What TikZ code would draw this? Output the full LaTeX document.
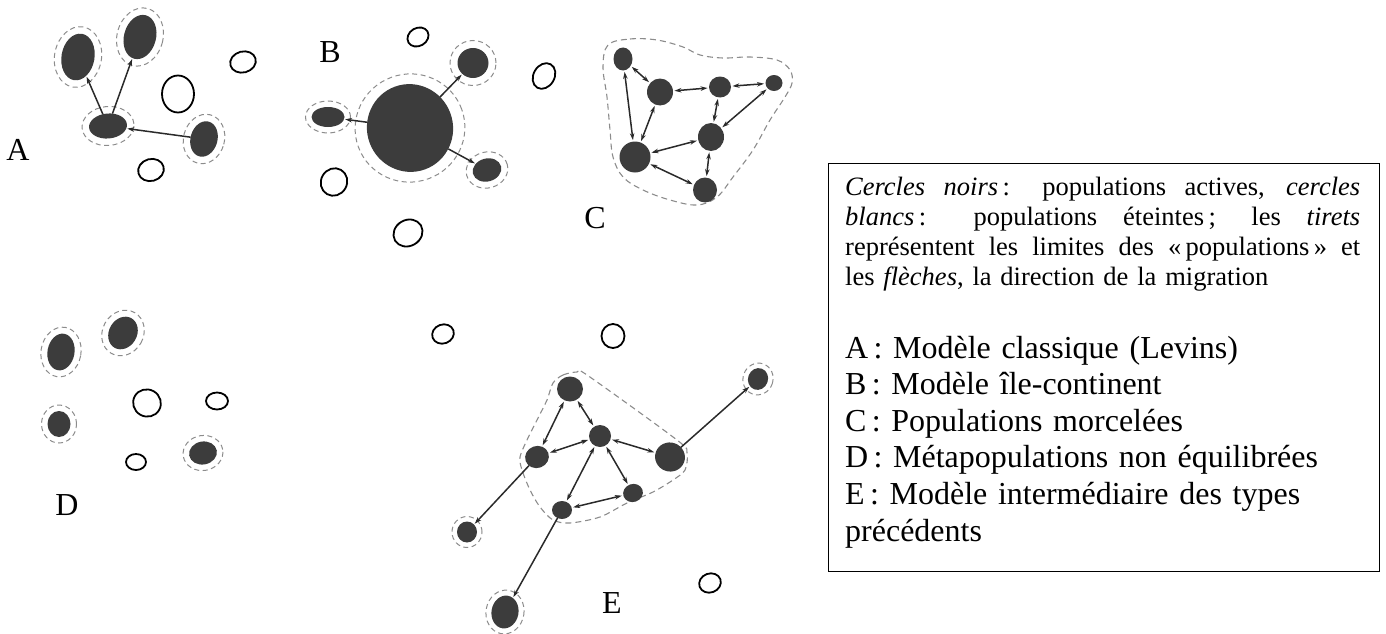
\documentclass[tikz,border=0pt]{standalone}
\usepackage{fontspec}
\setmainfont{Liberation Serif}
\usetikzlibrary{shapes.geometric,arrows.meta}

\definecolor{popfill}{HTML}{3C3C3C}
\definecolor{halogray}{HTML}{8C8C8C}
\definecolor{linkcol}{HTML}{2A2A2A}

\tikzset{
  live/.style={ellipse, fill=popfill, draw=none, inner sep=0pt, outer sep=0pt},
  dead/.style={ellipse, draw=black, line width=1.8pt, fill=white, inner sep=0pt},
  halo/.style={ellipse, draw=halogray, dash pattern=on 5pt off 3.5pt, line width=1pt, inner sep=0pt},
  boundary/.style={draw=halogray, dash pattern=on 6pt off 4pt, line width=1.1pt},
  mig/.style={draw=linkcol, line width=1.5pt, -{Stealth[length=7pt,width=4.5pt]}, shorten >=1pt},
  migboth/.style={draw=linkcol, line width=1.5pt,
    {Stealth[length=7pt,width=4.5pt]}-{Stealth[length=7pt,width=4.5pt]},
    shorten >=1.5pt, shorten <=1.5pt},
  panel/.style={font=\fontsize{32pt}{36pt}\selectfont, inner sep=0pt},
}

% living population with its dashed halo: name, x, y, width, height, angle, halo margin
\newcommand\livepop[7]{%
  \node[halo, minimum width={#4pt+#7pt}, minimum height={#5pt+#7pt}, rotate=#6] (#1h) at (#2,#3) {};
  \node[live, minimum width=#4pt, minimum height=#5pt, rotate=#6] (#1) at (#2,#3) {};}
% living population without halo
\newcommand\core[6]{%
  \node[live, minimum width=#4pt, minimum height=#5pt, rotate=#6] (#1) at (#2,#3) {};}
% extinct population
\newcommand\extinct[6]{%
  \node[dead, minimum width=#4pt, minimum height=#5pt, rotate=#6] (#1) at (#2,#3) {};}
% one fully justified line of the key
\newcommand\fullline[1]{\makebox[515pt][s]{\spaceskip=0pt \xspaceskip=0pt #1}}

\begin{document}
\begin{tikzpicture}[x=1pt,y=-1pt]
\useasboundingbox (0,0) rectangle (1386,634);

% ---------- A : classical model ----------
\livepop{a1}{78}{57}{33}{47}{-10}{14}
\livepop{a2}{140}{37}{32}{45}{-15}{14}
\livepop{a0}{108}{126}{38}{25}{5}{14}
\livepop{a3}{204}{139}{27}{36}{-15}{14}
\extinct{aw1}{178}{94}{32}{37}{0}
\extinct{aw2}{243}{62}{26}{21}{15}
\extinct{aw3}{151}{170}{26}{22}{15}
\draw[mig] (a0) -- (a1);
\draw[mig] (a0) -- (a2);
\draw[mig] (a3) -- (a0);
\node[panel] (labA) at (18,150) {A};

% ---------- B : island-continent ----------
\node[halo, minimum width=110pt, minimum height=108pt, rotate=20] (b0h) at (410,128) {};
\node[live, minimum width=86pt, minimum height=88pt, rotate=20] (b0) at (410,128) {};
\livepop{b1}{328}{117}{33}{20}{0}{12}
\livepop{b2}{473}{63}{31}{30}{0}{15}
\livepop{b3}{487}{170}{29}{23}{15}{13}
\extinct{bw1}{418}{37}{22}{18}{30}
\extinct{bw2}{544}{76}{21}{27}{-30}
\extinct{bw3}{334}{182}{26}{28}{-30}
\extinct{bw4}{408}{233}{30}{26}{30}
\draw[mig] (b0) -- (b1);
\draw[mig] (b0) -- (b2);
\draw[mig] (b0) -- (b3);
\node[panel] (labB) at (330,52) {B};

% ---------- C : patchy populations ----------
\draw[boundary] plot[smooth cycle, tension=0.6] coordinates {
  (608,45) (630,39) (657,40) (683,47) (700,55) (723,58) (750,57) (777,60)
  (790,70) (792,83) (785,97) (770,120) (753,150) (733,177) (717,197)
  (697,205) (670,200) (643,190) (623,177) (613,157) (610,130) (607,97) (603,67)};
\core{c1}{623}{59}{19}{23}{0}
\core{c2}{660}{92}{26}{27}{0}
\core{c3}{720}{87}{22}{21}{0}
\core{c4}{774}{83}{17}{16}{0}
\core{c5}{711}{137}{26}{28}{0}
\core{c6}{635}{157}{31}{31}{0}
\core{c7}{705}{190}{24}{25}{0}
\draw[migboth] (c1) -- (c2);
\draw[migboth] (c1) -- (c6);
\draw[migboth] (c2) -- (c3);
\draw[migboth] (c2) -- (c6);
\draw[migboth] (c3) -- (c4);
\draw[migboth] (c3) -- (c5);
\draw[migboth] (c5) -- (c4);
\draw[migboth] (c5) -- (c6);
\draw[migboth] (c5) -- (c7);
\draw[migboth] (c6) -- (c7);
\node[panel] (labC) at (595,218) {C};

% ---------- D : non-equilibrium metapopulations ----------
\livepop{d1}{61}{352}{27}{37}{-10}{13}
\livepop{d2}{123}{333}{28}{34}{-30}{13}
\livepop{d3}{59}{424}{23}{26}{0}{12}
\livepop{d4}{203}{453}{28}{23}{10}{12}
\extinct{dw1}{147}{403}{28}{27}{-30}
\extinct{dw2}{217}{401}{22}{17}{0}
\extinct{dw3}{136}{462}{20}{16}{0}
\node[panel] (labD) at (67,505) {D};

% ---------- E : intermediate model ----------
\draw[boundary] plot[smooth cycle, tension=0.5] coordinates {
  (553,383) (563,375) (577,372) (587,375) (677,440) (687,453) (685,470)
  (673,480) (653,492) (627,503) (600,517) (570,523) (553,520) (540,507)
  (530,490) (522,470) (520,457) (527,440) (537,420) (547,400)};
\core{e1}{570}{389}{26}{25}{0}
\core{e2}{600}{436}{22}{22}{0}
\core{e3}{537}{457}{24}{22}{20}
\core{e4}{670}{457}{30}{29}{-20}
\core{e5}{633}{493}{20}{18}{20}
\core{e6}{562}{510}{20}{18}{0}
\livepop{e7}{467}{532}{20}{21}{0}{10}
\livepop{e8}{505}{612}{27}{33}{-10}{11}
\livepop{e9}{758}{379}{20}{22}{-20}{10}
\extinct{ew1}{443}{334}{22}{19}{20}
\extinct{ew2}{613}{336}{23}{24}{0}
\extinct{ew3}{710}{583}{22}{19}{20}
\draw[migboth] (e1) -- (e3);
\draw[migboth] (e1) -- (e2);
\draw[migboth] (e3) -- (e2);
\draw[migboth] (e2) -- (e4);
\draw[migboth] (e2) -- (e6);
\draw[migboth] (e2) -- (e5);
\draw[migboth] (e6) -- (e5);
\draw[mig] (e3) -- (e7);
\draw[mig] (e6) -- (e8);
\draw[mig] (e4) -- (e9);
\node[panel] (labE) at (612,603) {E};

% ---------- key ----------
\node[draw=black, line width=1.2pt, anchor=north west, minimum width=551pt,
      minimum height=408pt, inner sep=0pt] (legend) at (828,163) {};
\node[anchor=base west, inner sep=0pt, text width=515pt, align=left,
      font=\fontsize{26.5pt}{30pt}\selectfont] (key) at (845,195)
  {\fullline{\textit{Cercles noirs}\,: populations actives, \textit{cercles}}\\
   \fullline{\textit{blancs}\,: populations éteintes\,; les \textit{tirets}}\\
   \fullline{représentent les limites des «\,populations\,» et}\\
   les \textit{flèches}, la direction de la migration};
\node[anchor=base west, inner sep=0pt, text width=530pt, align=left,
      font=\fontsize{32pt}{36.6pt}\selectfont] (models) at (845,358)
  {A\,: Modèle classique (Levins)\\
   B\,: Modèle île-continent\\
   C\,: Populations morcelées\\
   D\,: Métapopulations non équilibrées\\
   E\,: Modèle intermédiaire des types\\
   précédents};
\end{tikzpicture}
\end{document}
